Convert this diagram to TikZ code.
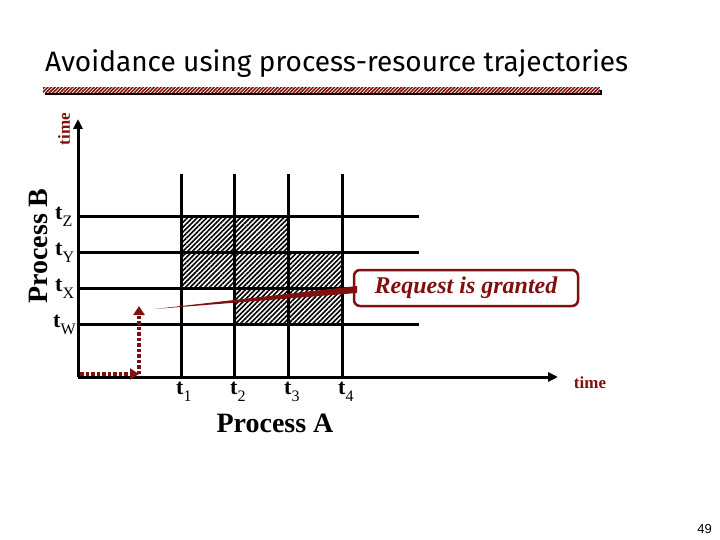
\documentclass[tikz,border=0pt]{standalone}
\usepackage{fontspec}
\setmainfont{Liberation Serif}
\newfontfamily\titlefont{Fira Sans}
\newfontfamily\pagefont{Liberation Sans}
\usetikzlibrary{patterns.meta,arrows.meta}
\definecolor{darkred}{RGB}{128,16,16}
\newcommand\tlab[1]{\textbf{t}\raisebox{-7pt}{\fontsize{16}{16}\selectfont #1}}
\tikzset{
  axis/.style={line width=3pt,-{Triangle[length=10pt,width=9pt]}},
  grid/.style={line width=3pt},
  hatch/.style={pattern={Lines[angle=45,distance=3.4pt,line width=1.6pt]}},
  tick/.style={inner sep=0pt,anchor=base west,font=\fontsize{22}{22}\selectfont},
  dotarrow/.style={darkred,line width=3.8pt,dash pattern=on 3.5pt off 2pt,-{Triangle[length=9pt,width=11pt]}},
  timelab/.style={darkred,inner sep=0pt,font=\fontsize{17}{17}\selectfont\bfseries},
  proclab/.style={inner sep=0pt,font=\fontsize{28}{28}\selectfont\bfseries},
  callout/.style={draw=darkred,line width=2.5pt,fill=white,rounded corners=6pt,text=darkred,
     font=\fontsize{24}{24}\selectfont\bfseries\itshape,minimum width=224pt,minimum height=36pt,inner sep=0pt}
}
\begin{document}
\begin{tikzpicture}[x=1pt,y=-1pt]
\useasboundingbox (0,0) rectangle (720,540);
% title
\node[inner sep=0pt,anchor=base west] (title) at (45,72) {\resizebox{583pt}{!}{\titlefont Avoidance using process-resource trajectories}};
\fill[black] (45,90) rectangle (602,95);
\fill[darkred] (43,87) rectangle (600,93);
\fill[pattern={Lines[angle=45,distance=2.5pt,line width=0.7pt]},pattern color=white] (43,87) rectangle (600,93);
% hatched cells
\fill[hatch] (181,217) rectangle (234,288);
\fill[hatch] (234,217) rectangle (288,324);
\fill[hatch] (288,252) rectangle (342,324);
% grid
\foreach \x in {181,234,288,342} \draw[grid] (\x,174) -- (\x,377);
\foreach \y in {217,252,288,324} \draw[grid] (78,\y) -- (419,\y);
% axes
\coordinate (O) at (78,377);
\coordinate (ytop) at (78,119);
\coordinate (xend) at (558,377);
\draw[axis] (O) -- (ytop);
\draw[axis] (O) -- (xend);
% labels
\node[tick] (tZ) at (55,219) {\tlab{Z}};
\node[tick] (tY) at (55,255) {\tlab{Y}};
\node[tick] (tX) at (55,291) {\tlab{X}};
\node[tick] (tW) at (53,327) {\tlab{W}};
\node[tick] (t1) at (176,394) {\tlab{1}};
\node[tick] (t2) at (230,394) {\tlab{2}};
\node[tick] (t3) at (284,394) {\tlab{3}};
\node[tick] (t4) at (338,394) {\tlab{4}};
\node[timelab] (tA) at (590,383) {time};
\node[timelab,rotate=90] (tB) at (64,129) {time};
\node[proclab,anchor=base] (pA) at (275,432) {Process A};
\node[proclab,anchor=base,rotate=90] (pB) at (47,246) {Process B};
% trajectory
\coordinate (s) at (80,374);
\coordinate (c) at (139,374);
\coordinate (e) at (139,306);
\draw[dotarrow] (s) -- (c);
\draw[dotarrow] (c) -- (e);
% callout
\coordinate (tip) at (155,309);
\node[callout] (req) at (466,288) {Request is granted};
\fill[darkred] (tip) -- (357,286) -- (357,293) -- cycle;
% page number
\node[inner sep=0pt,anchor=base east,font=\pagefont\fontsize{13}{13}\selectfont] (pg) at (712,533) {49};
\end{tikzpicture}
\end{document}
